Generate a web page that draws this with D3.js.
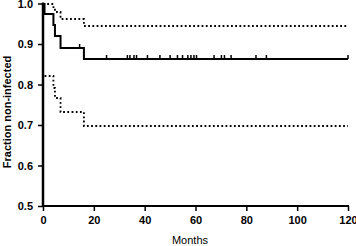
<!DOCTYPE html>
<html><head><meta charset="utf-8">
<script src="https://cdn.jsdelivr.net/npm/d3@7"></script>
<style>body{margin:0;background:#fff}svg{display:block}</style>
</head><body>
<script>
// Data
const eventTimes = [0, 0.6, 4.1, 4.7, 6.9, 16.1];
const survival   = [1, 0.974, 0.947, 0.919, 0.890, 0.862];
const upperBand  = [1, 0.998, 0.990, 0.978, 0.962, 0.945];
const lowerBand  = [null, 0.820, 0.792, 0.766, 0.733, 0.698];
const censorTimes = [14.4, 25.0, 33.2, 34.2, 35.8, 36.8, 41.1, 46.0, 50.0, 52.9, 54.9,
  57.0, 58.2, 59.4, 60.4, 67.3, 70.2, 71.4, 74.0, 83.8, 87.9, 120];
const xTicks = [0, 20, 40, 60, 80, 100, 120];
const yTicks = [0.5, 0.6, 0.7, 0.8, 0.9, 1.0];
const maxTime = 120;

const W = 356, H = 246;
const svg = d3.select("body").append("svg").attr("width", W).attr("height", H);
const x = d3.scaleLinear().domain([0, 120]).range([43, 348]);
const y = d3.scaleLinear().domain([0.5, 1.0]).range([206, 3.5]);

function stepData(vals) {
  const pts = [];
  eventTimes.forEach((t, i) => { if (vals[i] != null) pts.push([t, vals[i]]); });
  pts.push([maxTime, vals[vals.length - 1]]);
  return pts;
}
const line = d3.line().x(d => x(d[0])).y(d => Math.round(y(d[1]))).curve(d3.curveStepAfter);

// bands
[upperBand, lowerBand].forEach(b => {
  svg.append("path").attr("d", line(stepData(b)))
    .attr("fill", "none").attr("stroke", "#000").attr("stroke-width", 1.8)
    .attr("stroke-dasharray", "1.8,2.4");
});
// survival
svg.append("path").attr("d", line(stepData(survival)))
  .attr("fill", "none").attr("stroke", "#000").attr("stroke-width", 2);

// censor marks
function survAt(t) {
  let v = survival[0];
  eventTimes.forEach((et, i) => { if (et <= t) v = survival[i]; });
  return v;
}
svg.append("g").selectAll("line").data(censorTimes).join("line")
  .attr("x1", d => x(d)).attr("x2", d => x(d))
  .attr("y1", d => Math.round(y(survAt(d)))).attr("y2", d => Math.round(y(survAt(d))) - 4)
  .attr("stroke", "#000").attr("stroke-width", 1.5);

// axes
const yAxis = d3.axisLeft(y).tickValues(yTicks).tickFormat(d3.format(".1f")).tickSize(5).tickPadding(5);
const gy = svg.append("g").attr("transform", "translate(43,0)").call(yAxis);
const xAxis = d3.axisBottom(x).tickValues(xTicks).tickFormat(d3.format("d")).tickSize(5).tickPadding(5);
const gx = svg.append("g").attr("transform", "translate(0,206)").call(xAxis);
[gx, gy].forEach(g => {
  g.select(".domain").remove();
  g.selectAll(".tick line").attr("stroke", "#000").attr("stroke-width", 1.5);
  g.selectAll("text").attr("font-family", "Liberation Sans, Arial, sans-serif")
    .attr("font-size", 11).attr("font-weight", "bold").attr("fill", "#000");
});
svg.append("line").attr("x1", 43).attr("x2", 43).attr("y1", 2.5).attr("y2", 207)
  .attr("stroke", "#000").attr("stroke-width", 2.5);
svg.append("line").attr("x1", 42).attr("x2", 349).attr("y1", 206).attr("y2", 206)
  .attr("stroke", "#000").attr("stroke-width", 2.2);

// labels
svg.append("text").attr("x", 190).attr("y", 244)
  .attr("text-anchor", "middle").attr("font-family", "Liberation Sans, Arial, sans-serif")
  .attr("font-size", 11).text("Months");
svg.append("text").attr("transform", "translate(11,112) rotate(-90)")
  .attr("text-anchor", "middle").attr("font-family", "Liberation Sans, Arial, sans-serif")
  .attr("font-size", 11).attr("font-weight", "bold").text("Fraction non-infected");
</script>
</body></html>
